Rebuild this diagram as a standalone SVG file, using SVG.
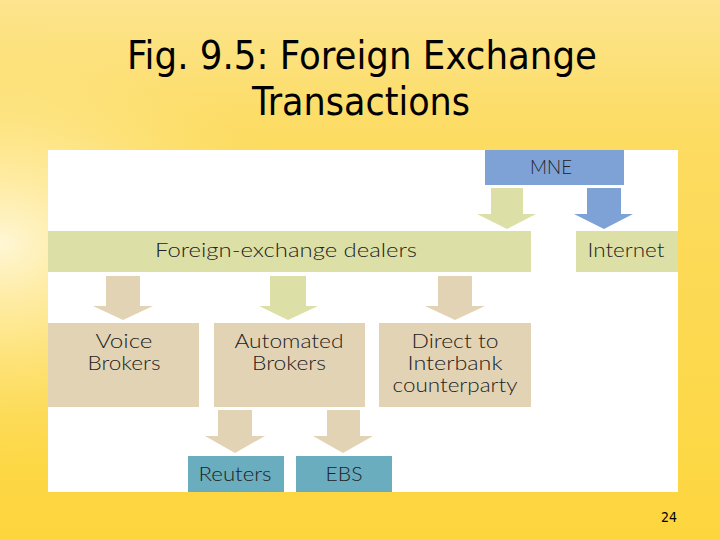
<svg xmlns="http://www.w3.org/2000/svg" width="720" height="540" viewBox="0 0 720 540">
  <defs>
    <linearGradient id="bg" x1="0" y1="0" x2="0" y2="1">
      <stop offset="0" stop-color="#fde48e"/>
      <stop offset="0.25" stop-color="#fcdc62"/>
      <stop offset="1" stop-color="#fdd63e"/>
    </linearGradient>
    <radialGradient id="glow" cx="0" cy="0.45" r="0.42" gradientUnits="objectBoundingBox">
      <stop offset="0" stop-color="#fff8dc" stop-opacity="0.95"/>
      <stop offset="0.4" stop-color="#fff0b4" stop-opacity="0.6"/>
      <stop offset="1" stop-color="#fde070" stop-opacity="0"/>
    </radialGradient>
    <style>
      .t { font-family: "Lato", "Open Sans", sans-serif; font-weight: 300; font-size: 20.5px; fill: #222; text-anchor: middle; }
      .title { font-family: "DejaVu Sans Condensed", "DejaVu Sans", sans-serif; font-size: 39px; fill: #000; text-anchor: middle; }
      .green { fill: #dde0a6; }
      .tan { fill: #e3d3b5; }
      .blue { fill: #7fa2d6; }
      .teal { fill: #69adbe; }
    </style>
  </defs>

  <rect x="0" y="0" width="720" height="540" fill="url(#bg)"/>
  <rect x="0" y="0" width="720" height="540" fill="url(#glow)"/>

  <text class="title" x="362" y="69" textLength="470" lengthAdjust="spacingAndGlyphs">Fig. 9.5: Foreign Exchange</text>
  <text class="title" x="361" y="115" textLength="218" lengthAdjust="spacingAndGlyphs">Transactions</text>

  <rect x="48" y="150" width="630" height="342" fill="#ffffff"/>

  <g id="connectors">
    <polygon class="green" points="491,188 523,188 523,214 536,214 507,229 477,214 491,214"/>
    <polygon class="blue" points="587,188 621,188 621,214 633,214 604,229 574,214 587,214"/>
    <polygon class="tan" points="106,276 140,276 140,306 153,306 123,320 93,306 106,306"/>
    <polygon class="green" points="270,276 306,276 306,306 318,306 288,320 259,306 270,306"/>
    <polygon class="tan" points="438,276 472,276 472,306 485,306 455,320 425,306 438,306"/>
    <polygon class="tan" points="218,410 252,410 252,436 265,436 235,453 205,436 218,436"/>
    <polygon class="tan" points="327,410 360,410 360,436 373,436 343,453 313,436 327,436"/>
  </g>

  <g id="mne">
    <rect class="blue" x="485" y="150" width="139" height="35"/>
    <text class="t" x="551" y="174" textLength="42" lengthAdjust="spacingAndGlyphs">MNE</text>
  </g>
  <g id="dealers">
    <rect class="green" x="48" y="231" width="483" height="41"/>
    <text class="t" x="286" y="257" textLength="262" lengthAdjust="spacingAndGlyphs">Foreign-exchange dealers</text>
  </g>
  <g id="internet">
    <rect class="green" x="576" y="231" width="102" height="41"/>
    <text class="t" x="626" y="257" textLength="77" lengthAdjust="spacingAndGlyphs">Internet</text>
  </g>
  <g id="voice">
    <rect class="tan" x="48" y="323" width="151" height="84"/>
    <text class="t" x="124" y="348" textLength="57" lengthAdjust="spacingAndGlyphs">Voice</text>
    <text class="t" x="124" y="370" textLength="73" lengthAdjust="spacingAndGlyphs">Brokers</text>
  </g>
  <g id="automated">
    <rect class="tan" x="214" y="323" width="151" height="84"/>
    <text class="t" x="289" y="348" textLength="109" lengthAdjust="spacingAndGlyphs">Automated</text>
    <text class="t" x="289" y="370" textLength="74" lengthAdjust="spacingAndGlyphs">Brokers</text>
  </g>
  <g id="direct">
    <rect class="tan" x="379" y="323" width="152" height="84"/>
    <text class="t" x="455" y="348" textLength="87" lengthAdjust="spacingAndGlyphs">Direct to</text>
    <text class="t" x="455" y="370" textLength="95" lengthAdjust="spacingAndGlyphs">Interbank</text>
    <text class="t" x="455" y="392" textLength="125" lengthAdjust="spacingAndGlyphs">counterparty</text>
  </g>
  <g id="reuters">
    <rect class="teal" x="188" y="456" width="96" height="36"/>
    <text class="t" x="235" y="481" textLength="73" lengthAdjust="spacingAndGlyphs">Reuters</text>
  </g>
  <g id="ebs">
    <rect class="teal" x="296" y="456" width="96" height="36"/>
    <text class="t" x="344" y="481" textLength="37" lengthAdjust="spacingAndGlyphs">EBS</text>
  </g>

  <text x="669" y="522" font-family="DejaVu Sans Condensed, DejaVu Sans, sans-serif" font-size="14" fill="#000" text-anchor="middle">24</text>
</svg>
